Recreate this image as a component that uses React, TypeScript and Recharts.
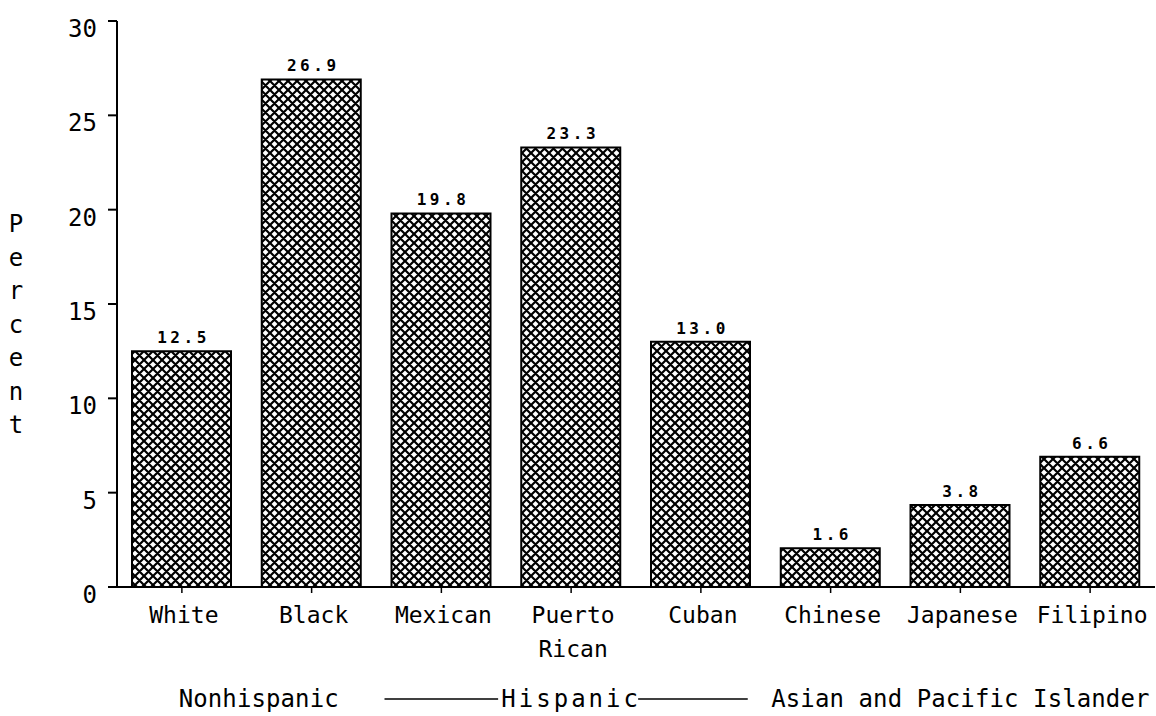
import React from 'react';
import {Bar, BarChart, LabelList, XAxis, YAxis} from "recharts";

const categories = ["White", "Black", "Mexican", "Puerto Rican", "Cuban", "Chinese", "Japanese", "Filipino"];
// bar heights as drawn in the picture
const percents = [12.5, 26.9, 19.8, 23.3, 13.0, 2.05, 4.35, 6.9];
// values printed above the bars
const printedLabels = ["12.5", "26.9", "19.8", "23.3", "13.0", "1.6", "3.8", "6.6"];
const yTicks = [0, 5, 10, 15, 20, 25, 30];
const groups = [
    {name: "Nonhispanic", from: 0, to: 1},
    {name: "Hispanic", from: 2, to: 4},
    {name: "Asian and Pacific Islander", from: 5, to: 7},
];

const W = 1156;
const H = 716;
const LEFT = 117;
const TOP = 21;
const RIGHT = 1;
const BOTTOM = 129;
const band = (W - LEFT - RIGHT) / categories.length;

const mono = "'DejaVu Sans Mono', 'Liberation Mono', monospace";

const data = categories.map((c, i) => ({name: c, value: percents[i], label: printedLabels[i]}));

function XTick({x, y, payload}: any) {
    const lines = String(payload.value).split(" ");
    return (
        <text x={x} y={y + 30} textAnchor="middle" fontFamily={mono} fontSize={23} fill="#000">
            {lines.map((l, i) => (
                <tspan key={i} x={x + 2} dy={i === 0 ? 0 : 34}>{l}</tspan>
            ))}
        </text>
    );
}

function YTick({x, y, payload}: any) {
    return (
        <text x={x - 11} y={y + 16} textAnchor="end" fontFamily={mono} fontSize={24} fill="#000">
            {payload.value}
        </text>
    );
}

function BarLabel({x, y, width, value}: any) {
    return (
        <text x={x + width / 2 + 2} y={y - 8} textAnchor="middle" fontFamily={mono} fontSize={16}
              fontWeight="bold" letterSpacing={3.5} fill="#000">
            {value}
        </text>
    );
}

function App(): React.ReactElement {
    const percentLetters = "Percent".split("");
    const groupY = 707;
    return (
        <div style={{position: "absolute", left: 0, top: 0, width: W, height: H, background: "#fff"}}>
            <svg width={0} height={0} style={{position: "absolute"}}>
                <defs>
                    <pattern id="hatch" patternUnits="userSpaceOnUse" width={9} height={9}>
                        <rect width={9} height={9} fill="#fff"/>
                        <path d="M-2,-2 L11,11 M11,-2 L-2,11 M-2,7 L2,11 M7,-2 L11,2 M7,11 L11,7 M-2,2 L2,-2"
                              stroke="#000" strokeWidth={2.2}/>
                    </pattern>
                </defs>
            </svg>
            <BarChart width={W} height={H} data={data}
                      margin={{top: TOP, right: RIGHT, bottom: BOTTOM - 60, left: LEFT - 60}}>
                <XAxis dataKey="name" height={60} interval={0} tickSize={6} tickMargin={0}
                       axisLine={{stroke: "#000", strokeWidth: 2}} tickLine={{stroke: "#000", strokeWidth: 1.5}}
                       tick={<XTick/>}/>
                <YAxis width={60} domain={[0, 30]} ticks={yTicks} tickSize={9} tickMargin={0}
                       allowDataOverflow
                       axisLine={{stroke: "#000", strokeWidth: 2}} tickLine={{stroke: "#000", strokeWidth: 2}}
                       tick={<YTick/>}/>
                <Bar dataKey="value" barSize={99} fill="url(#hatch)" stroke="#000" strokeWidth={2}
                     isAnimationActive={false}>
                    <LabelList dataKey="label" content={<BarLabel/>}/>
                </Bar>
            </BarChart>
            <svg width={W} height={H} style={{position: "absolute", left: 0, top: 0, pointerEvents: "none"}}>
                <text x={16} y={232} textAnchor="middle" fontFamily={mono} fontSize={24} fill="#000">
                    {percentLetters.map((ch, i) => (
                        <tspan key={i} x={16} dy={i === 0 ? 0 : 33.5}>{ch}</tspan>
                    ))}
                </text>
                {groups.map((g) => {
                    const start = LEFT + g.from * band;
                    const end = LEFT + (g.to + 1) * band;
                    const mid = (start + end) / 2;
                    const lined = g.name === "Hispanic";
                    const cx = g.name === "Nonhispanic" ? mid + 12 : mid;
                    return (
                        <g key={g.name}>
                            <text x={cx} y={groupY} textAnchor="middle" fontFamily={mono} fontSize={24}
                                  letterSpacing={lined ? 3 : 0.1} fill="#000">{g.name}</text>
                            {lined && (
                                <>
                                    <line x1={start + 8} x2={mid - 73} y1={groupY - 8} y2={groupY - 8}
                                          stroke="#000" strokeWidth={1.5}/>
                                    <line x1={mid + 67} x2={end - 18} y1={groupY - 8} y2={groupY - 8}
                                          stroke="#000" strokeWidth={1.5}/>
                                </>
                            )}
                        </g>
                    );
                })}
            </svg>
        </div>
    );
}

export default App;
